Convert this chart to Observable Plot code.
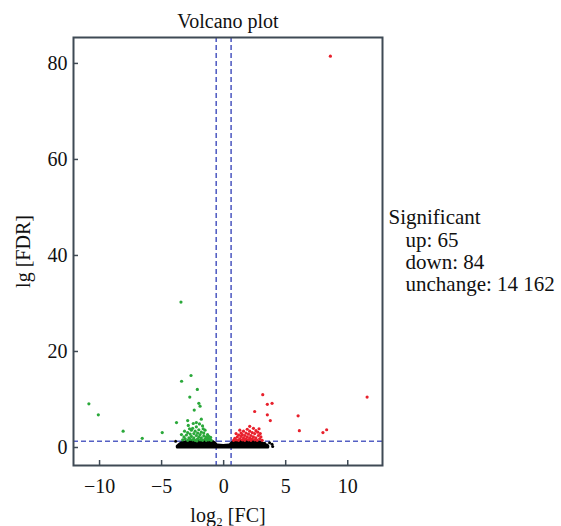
<!DOCTYPE html>
<html>
<head>
<meta charset="utf-8">
<script src="https://cdn.jsdelivr.net/npm/d3@7"></script>
<script src="https://cdn.jsdelivr.net/npm/@observablehq/plot@0.6"></script>
<style>
  html, body { margin: 0; padding: 0; background: #fff; }
</style>
</head>
<body>
<div id="chart"></div>
<script>
// Down-regulated (green) genes: [log2 FC, lg FDR]
const downX = [-10.86,-10.1,-8.1,-6.56,-4.95,-3.8,-3.44,-3.39,-2.63,-2.12,-2.73,-2.0,-1.9,-2.37,-1.8,-2.9,-2.2,
  -3.3,-3.2,-3.1,-3.0,-2.9,-2.9,-2.8,-2.7,-2.7,-2.6,-2.6,-2.5,-2.5,-2.4,-2.4,-2.3,-2.3,-2.2,-2.2,-2.1,-2.1,-2.0,-2.0,-1.9,-1.9,-1.8,-1.8,-1.7,-1.7,-1.6,-1.6,-1.5,-1.5,-1.4,-1.4,-1.3,-1.3,-1.2,-1.2,-1.1,-1.0,-2.85,-3.15,-2.45,-1.95,-3.4,-1.05,-2.75,-2.15,-1.65];
const downY = [9.1,6.8,3.4,1.9,3.1,5.2,30.3,13.8,15.0,12.1,10.5,9.2,8.6,7.8,5.9,5.6,5.2,
  1.6,2.2,1.8,2.6,1.5,3.1,2.0,2.8,1.7,3.6,2.3,1.6,4.0,2.9,2.0,3.4,1.5,2.5,4.3,1.8,3.0,2.2,3.7,1.6,2.7,3.2,2.0,4.5,1.5,2.4,3.0,1.8,3.6,2.2,1.5,2.7,1.9,1.6,2.3,1.7,1.5,4.6,3.4,5.0,4.9,2.7,2.1,3.9,1.4,3.9];

// Up-regulated (red) genes
const upX = [8.6,11.56,3.15,3.52,3.9,2.5,3.52,3.76,6.0,6.1,8.0,8.3,2.1,2.85,
  0.8,0.9,1.0,1.1,1.2,1.2,1.3,1.4,1.4,1.5,1.5,1.6,1.6,1.7,1.7,1.8,1.8,1.9,1.9,2.0,2.0,2.1,2.1,2.2,2.2,2.3,2.3,2.4,2.4,2.5,2.5,2.6,2.6,2.7,2.8,2.9,3.0,3.1,1.3,1.0,2.75,2.95];
const upY = [81.5,10.5,11.0,9.0,9.2,7.5,6.8,5.6,6.6,3.5,3.1,3.7,4.4,3.9,
  1.5,1.9,1.6,2.2,1.5,2.6,1.8,2.3,3.0,1.6,2.7,2.0,3.4,1.5,2.5,3.0,1.8,2.2,3.8,1.6,2.8,3.4,2.0,1.5,2.5,3.1,1.8,4.0,2.2,1.6,2.9,2.0,3.5,1.5,2.5,1.8,2.2,1.5,3.6,2.9,3.2,2.9];

// Dense cloud of unchanged genes (outline of the black mass)
const ncX   = [-3.7,-3.4,-3.0,-2.5,-2.0,-1.5,-1.0,-0.7,-0.5,0,0.5,0.7,1.0,1.5,2.0,2.5,3.0,3.3,3.6];
const ncTop = [0.2,0.8,1.1,1.2,1.25,1.25,1.2,0.9,0.4,0.3,0.4,0.9,1.2,1.25,1.25,1.2,1.0,0.6,0.2];
// Scattered unchanged genes at the cloud's edges
const ncDotX = [-3.87,-3.6,3.3,3.5,3.9,3.95,3.7];
const ncDotY = [1.3,0.3,0.9,0.5,0.7,0.2,1.0];

// Thresholds
const fcCut = [-0.6, 0.6];
const fdrCut = [1.3];

const xTicks = [-10, -5, 0, 5, 10];
const yTicks = [0, 20, 40, 60, 80];

const legendHead = ["Significant"];
const legendLines = ["up: 65", "down: 84", "unchange: 14 162"];

const down = downX.map((x, i) => ({x, y: downY[i]}));
const up = upX.map((x, i) => ({x, y: upY[i]}));
const cloud = ncX.map((x, i) => ({x, y: ncTop[i]}));
const ncDots = ncDotX.map((x, i) => ({x, y: ncDotY[i]}));

const font = "Liberation Serif, Times New Roman, serif";
const dash = "#5560c4";
const legendStyle = {frameAnchor: "top-right", textAnchor: "start", lineAnchor: "bottom", fontSize: 21};

const plot = Plot.plot({
  width: 561,
  height: 526,
  marginLeft: 73,
  marginRight: 179,
  marginTop: 37,
  marginBottom: 61,
  style: {fontFamily: font, fontSize: "20px", color: "#111", background: "#fff", overflow: "visible"},
  x: {domain: [-12.1, 12.8]},
  y: {domain: [-3.75, 85.4]},
  marks: [
    Plot.ruleX(fcCut, {stroke: dash, strokeWidth: 1.6, strokeDasharray: "5,3"}),
    Plot.ruleY(fdrCut, {stroke: dash, strokeWidth: 1.6, strokeDasharray: "5,3"}),
    Plot.areaY(cloud, {x: "x", y1: 0, y2: "y", fill: "#000", stroke: "#000", strokeWidth: 3, curve: "monotone-x"}),
    Plot.dot(ncDots, {x: "x", y: "y", r: 1.5, fill: "#000"}),
    Plot.dot(down, {x: "x", y: "y", r: 1.6, fill: "#2aa83a"}),
    Plot.dot(up, {x: "x", y: "y", r: 1.6, fill: "#e8202c"}),
    Plot.frame({stroke: "#3f4a55", strokeWidth: 2}),
    Plot.tickY(yTicks, {y: d => d, stroke: "#3f4a55", strokeWidth: 1.5, insetRight: 304}),
    Plot.tickX(xTicks, {x: d => d, stroke: "#3f4a55", strokeWidth: 1.5, insetTop: 423}),
    Plot.axisY(yTicks, {tickSize: 0, tickPadding: 6, label: null, fontSize: 20}),
    Plot.axisX(xTicks, {tickSize: 0, tickPadding: 13, label: null, fontSize: 20}),
    Plot.text(["Volcano plot"], {frameAnchor: "top", dy: -10, lineAnchor: "bottom", fontSize: 20}),
    Plot.text(["lg [FDR]"], {frameAnchor: "left", dx: -44, rotate: -90, lineAnchor: "bottom", textAnchor: "middle", fontSize: 20}),
    Plot.text(["log\u2082 [FC]"], {frameAnchor: "bottom", dy: 56, lineAnchor: "bottom", fontSize: 20}),
    Plot.text(legendHead, {...legendStyle, dx: 6, dy: 186}),
    Plot.text(legendLines.slice(0, 1), {...legendStyle, dx: 23, dy: 209}),
    Plot.text(legendLines.slice(1, 2), {...legendStyle, dx: 23, dy: 231}),
    Plot.text(legendLines.slice(2, 3), {...legendStyle, dx: 23, dy: 253})
  ]
});
document.getElementById("chart").appendChild(plot);
</script>
</body>
</html>
